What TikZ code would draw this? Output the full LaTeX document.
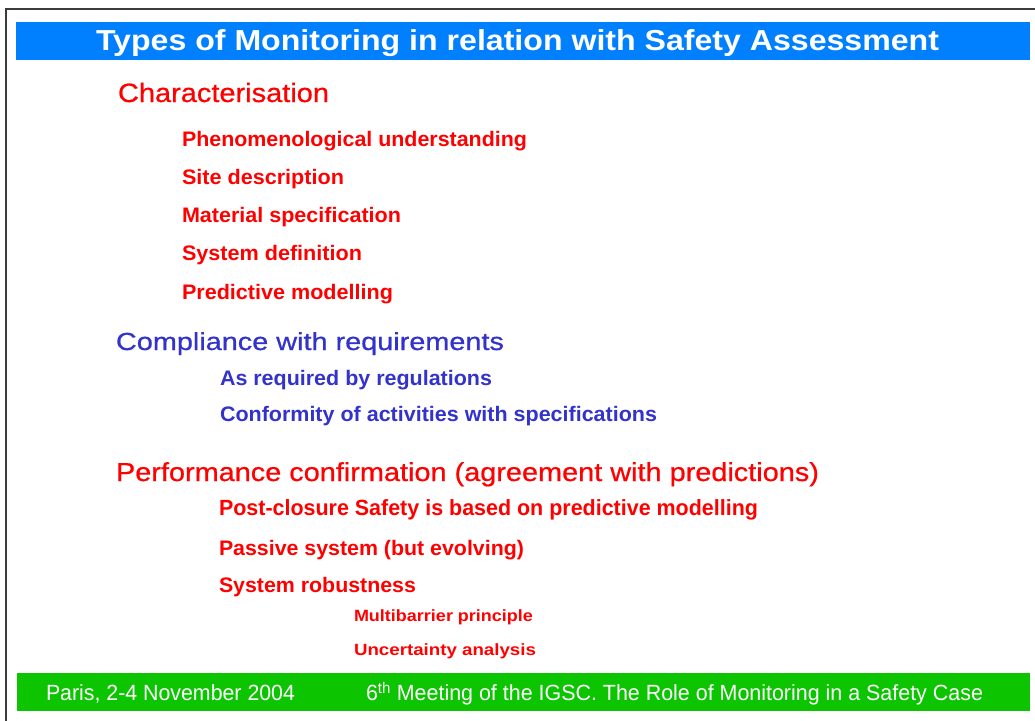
\documentclass[tikz,border=0pt]{standalone}
\usepackage{fontspec}
\setmainfont{Liberation Sans}
\newfontfamily\medfont[FakeBold=0.6]{Liberation Sans}
\usepackage{graphicx}
\definecolor{titleblue}{RGB}{0,128,255}
\definecolor{footgreen}{RGB}{12,196,0}
\definecolor{txtred}{RGB}{255,0,0}
\definecolor{txtblue}{RGB}{51,51,204}
\definecolor{framegray}{RGB}{60,60,60}
\newcommand\fitw[2]{\sbox0{#2}\pgfmathsetmacro\fitr{#1/\the\wd0}\scalebox{\fitr}[1]{\usebox0}}
\newcommand\fsz[1]{\fontsize{#1}{#1}\selectfont}
\tikzset{
  txt/.style={anchor=base west, inner sep=0pt, outer sep=0pt},
  redtxt/.style={txt, text=txtred},
  bluetxt/.style={txt, text=txtblue},
  foot/.style={txt, text=white},
}
\begin{document}
\begin{tikzpicture}[x=1pt,y=-1pt]
\useasboundingbox (0,0) rectangle (1035,720);
\fill[white] (0,0) rectangle (1035,720);
% frame
\draw[framegray, line width=2pt] (6,9) rectangle (1060,740);
% title bar
\fill[titleblue] (16,22) rectangle (1030,60);
\node[txt, text=white] (title) at (96,50) {\fitw{843}{\fsz{28.9}\bfseries Types of Monitoring in relation with Safety Assessment}};
% Characterisation
\node[redtxt] (char) at (118,102) {\fitw{211}{\fsz{26.5}\medfont Characterisation}};
\node[redtxt] (c1) at (182,146.7) {\fitw{345}{\fsz{21}\bfseries Phenomenological understanding}};
\node[redtxt] (c2) at (182,184.3) {\fitw{162}{\fsz{21}\bfseries Site description}};
\node[redtxt] (c3) at (182,222.3) {\fitw{219}{\fsz{21}\bfseries Material specification}};
\node[redtxt] (c4) at (182,260) {\fitw{180}{\fsz{21}\bfseries System definition}};
\node[redtxt] (c5) at (182,299) {\fitw{211}{\fsz{21}\bfseries Predictive modelling}};
% Compliance
\node[bluetxt] (comp) at (116,350) {\fitw{388}{\fsz{24.7}\medfont Compliance with requirements}};
\node[bluetxt] (p1) at (220,385) {\fitw{272}{\fsz{21}\bfseries As required by regulations}};
\node[bluetxt] (p2) at (220,421.7) {\fitw{437}{\fsz{21}\bfseries Conformity of activities with specifications}};
% Performance
\node[redtxt] (perf) at (116,481) {\fitw{703}{\fsz{26}\medfont Performance confirmation (agreement with predictions)}};
\node[redtxt] (f1) at (219,515) {\fitw{539}{\fsz{22}\bfseries Post-closure Safety is based on predictive modelling}};
\node[redtxt] (f2) at (219,555) {\fitw{305}{\fsz{21}\bfseries Passive system (but evolving)}};
\node[redtxt] (f3) at (219,592.7) {\fitw{197}{\fsz{21}\bfseries System robustness}};
\node[redtxt] (g1) at (354,621.7) {\fitw{179}{\fsz{16.3}\bfseries Multibarrier principle}};
\node[redtxt] (g2) at (354,655) {\fitw{182}{\fsz{16.3}\bfseries Uncertainty analysis}};
% footer
\fill[footgreen] (17,673) rectangle (1030,711);
\node[foot] (place) at (46,700.7) {\fitw{249}{\fsz{22}Paris, 2-4 November 2004}};
\node[foot] (meet) at (366,700.7) {\fitw{617}{\fsz{22}6\textsuperscript{th} Meeting of the IGSC. The Role of Monitoring in a Safety Case}};
\end{tikzpicture}
\end{document}
